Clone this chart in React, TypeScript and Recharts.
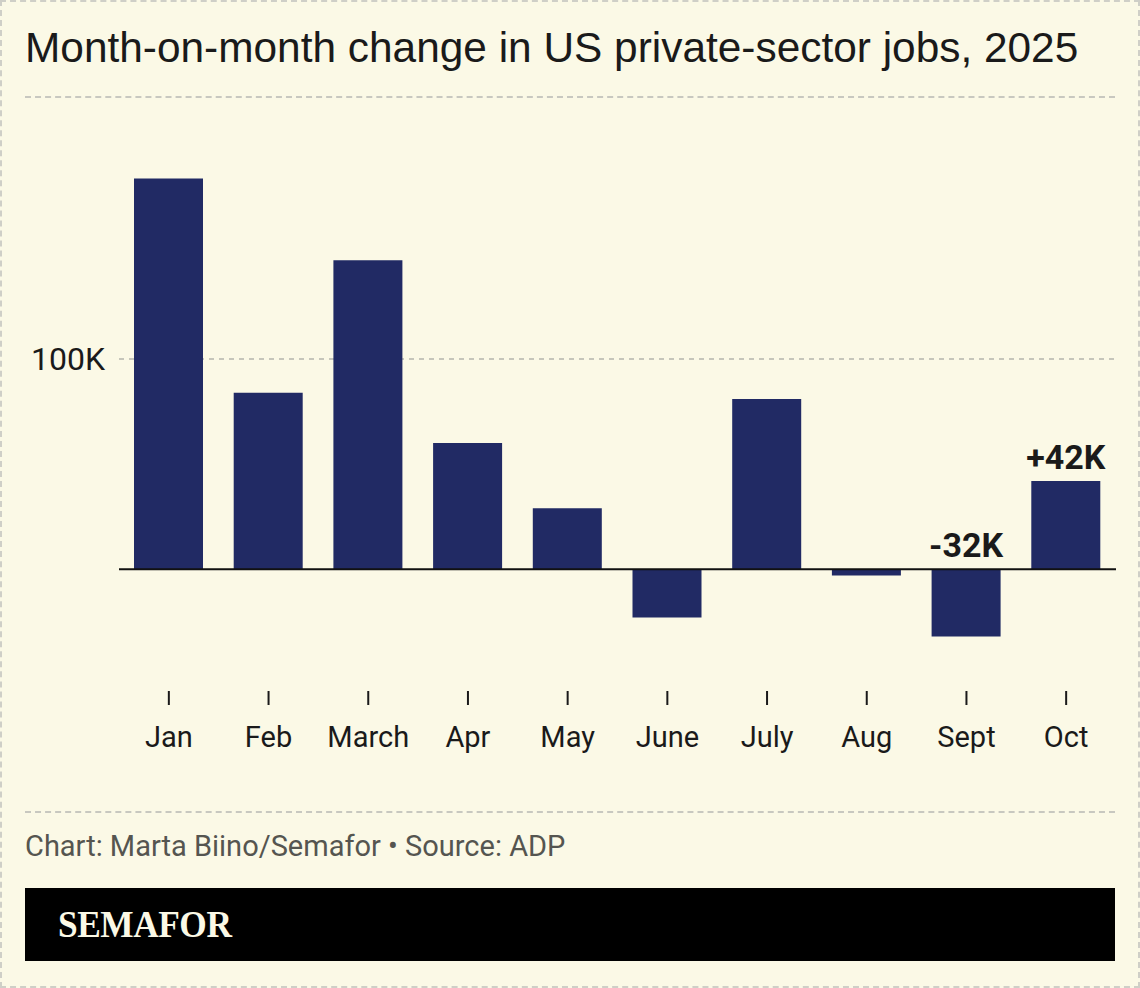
import { ComposedChart, Bar, XAxis, YAxis, CartesianGrid, ReferenceLine, LabelList } from 'recharts';

const months = ['Jan', 'Feb', 'March', 'Apr', 'May', 'June', 'July', 'Aug', 'Sept', 'Oct'];
const jobs = [186, 84, 147, 60, 29, -23, 81, -3, -32, 42];
const callouts = ['', '', '', '', '', '', '', '', '-32K', '+42K'];
const yTicks = [100];
const Y_MIN = -58;
const Y_MAX = 200;

const data = months.map((m, i) => ({ month: m, jobs: jobs[i], callout: callouts[i] }));

const BG = '#fbf9e6';
const NAVY = '#212a64';
const SANS = 'Roboto, "Noto Sans", sans-serif';

const renderCallout = (props: any) => {
  const { x, y, width, height, value } = props;
  if (!value) return null;
  const top = Math.min(y, y + height);
  return (
    <text x={x + width / 2} y={top - 12} textAnchor="middle" fontFamily={SANS} fontWeight={700} fontSize={34} fill="#1a1a1a">
      {value}
    </text>
  );
};

const renderYTick = (props: any) => {
  const { y, payload } = props;
  return (
    <text x={105} y={y} dy={11} textAnchor="end" fontFamily={SANS} fontSize={32} fill="#1a1a1a">
      {payload.value}K
    </text>
  );
};

// only the 100K gridline, kept behind the bars
const gridRows = ({ offset }: any) => {
  if (!offset) return [];
  return yTicks.map((t) => offset.top + (offset.height * (Y_MAX - t)) / (Y_MAX - Y_MIN));
};

export default function App() {
  return (
    <div style={{ position: 'absolute', top: 0, left: 0, width: 1140, height: 988, background: BG, border: '2px dashed #cfcfc7', boxSizing: 'border-box', overflow: 'hidden' }}>
      <div style={{ position: 'absolute', left: 23, top: 22, fontFamily: '"Liberation Sans", Arial, sans-serif', fontSize: 42.4, color: '#1a1a1a', whiteSpace: 'nowrap' }}>
        Month-on-month change in US private-sector jobs, 2025
      </div>
      <div style={{ position: 'absolute', left: 23, top: 94, width: 1090, borderTop: '2px dashed #c8c8c0' }} />
      <div style={{ position: 'absolute', left: -2, top: -2 }}>
        <ComposedChart width={1140} height={780} data={data} margin={{ top: 149, right: 24, left: 0, bottom: 0 }}>
          <CartesianGrid vertical={false} stroke="#b5b5ad" strokeDasharray="5 5" strokeWidth={1.5}
            horizontalCoordinatesGenerator={gridRows} />
          <XAxis dataKey="month" axisLine={false} tickLine={{ stroke: '#1a1a1a', strokeWidth: 2 }} tickSize={14} height={89}
            tick={{ fontFamily: SANS, fontSize: 29, fill: '#1a1a1a', dy: 19 }} interval={0} />
          <YAxis domain={[Y_MIN, Y_MAX]} ticks={yTicks} width={119} axisLine={false} tickLine={false} tick={renderYTick} />
          <ReferenceLine y={0} stroke="#111" strokeWidth={2} />
          <Bar dataKey="jobs" fill={NAVY} barSize={69} isAnimationActive={false}>
            <LabelList dataKey="callout" content={renderCallout} />
          </Bar>
        </ComposedChart>
      </div>
      <div style={{ position: 'absolute', left: 23, top: 809, width: 1090, borderTop: '2px dashed #c8c8c0' }} />
      <div style={{ position: 'absolute', left: 23, top: 827, fontFamily: SANS, fontSize: 29, color: '#555550', whiteSpace: 'nowrap' }}>
        Chart: Marta Biino/Semafor • Source: ADP
      </div>
      <div style={{ position: 'absolute', left: 23, top: 886, width: 1090, height: 73, background: '#000' }}>
        <span style={{ position: 'absolute', left: 33, top: 14, fontFamily: '"Liberation Serif", serif', fontWeight: 700, fontSize: 38, color: BG, transform: 'scaleX(0.93)', transformOrigin: 'left center', display: 'inline-block', letterSpacing: -0.5 }}>
          SEMAFOR
        </span>
      </div>
    </div>
  );
}
